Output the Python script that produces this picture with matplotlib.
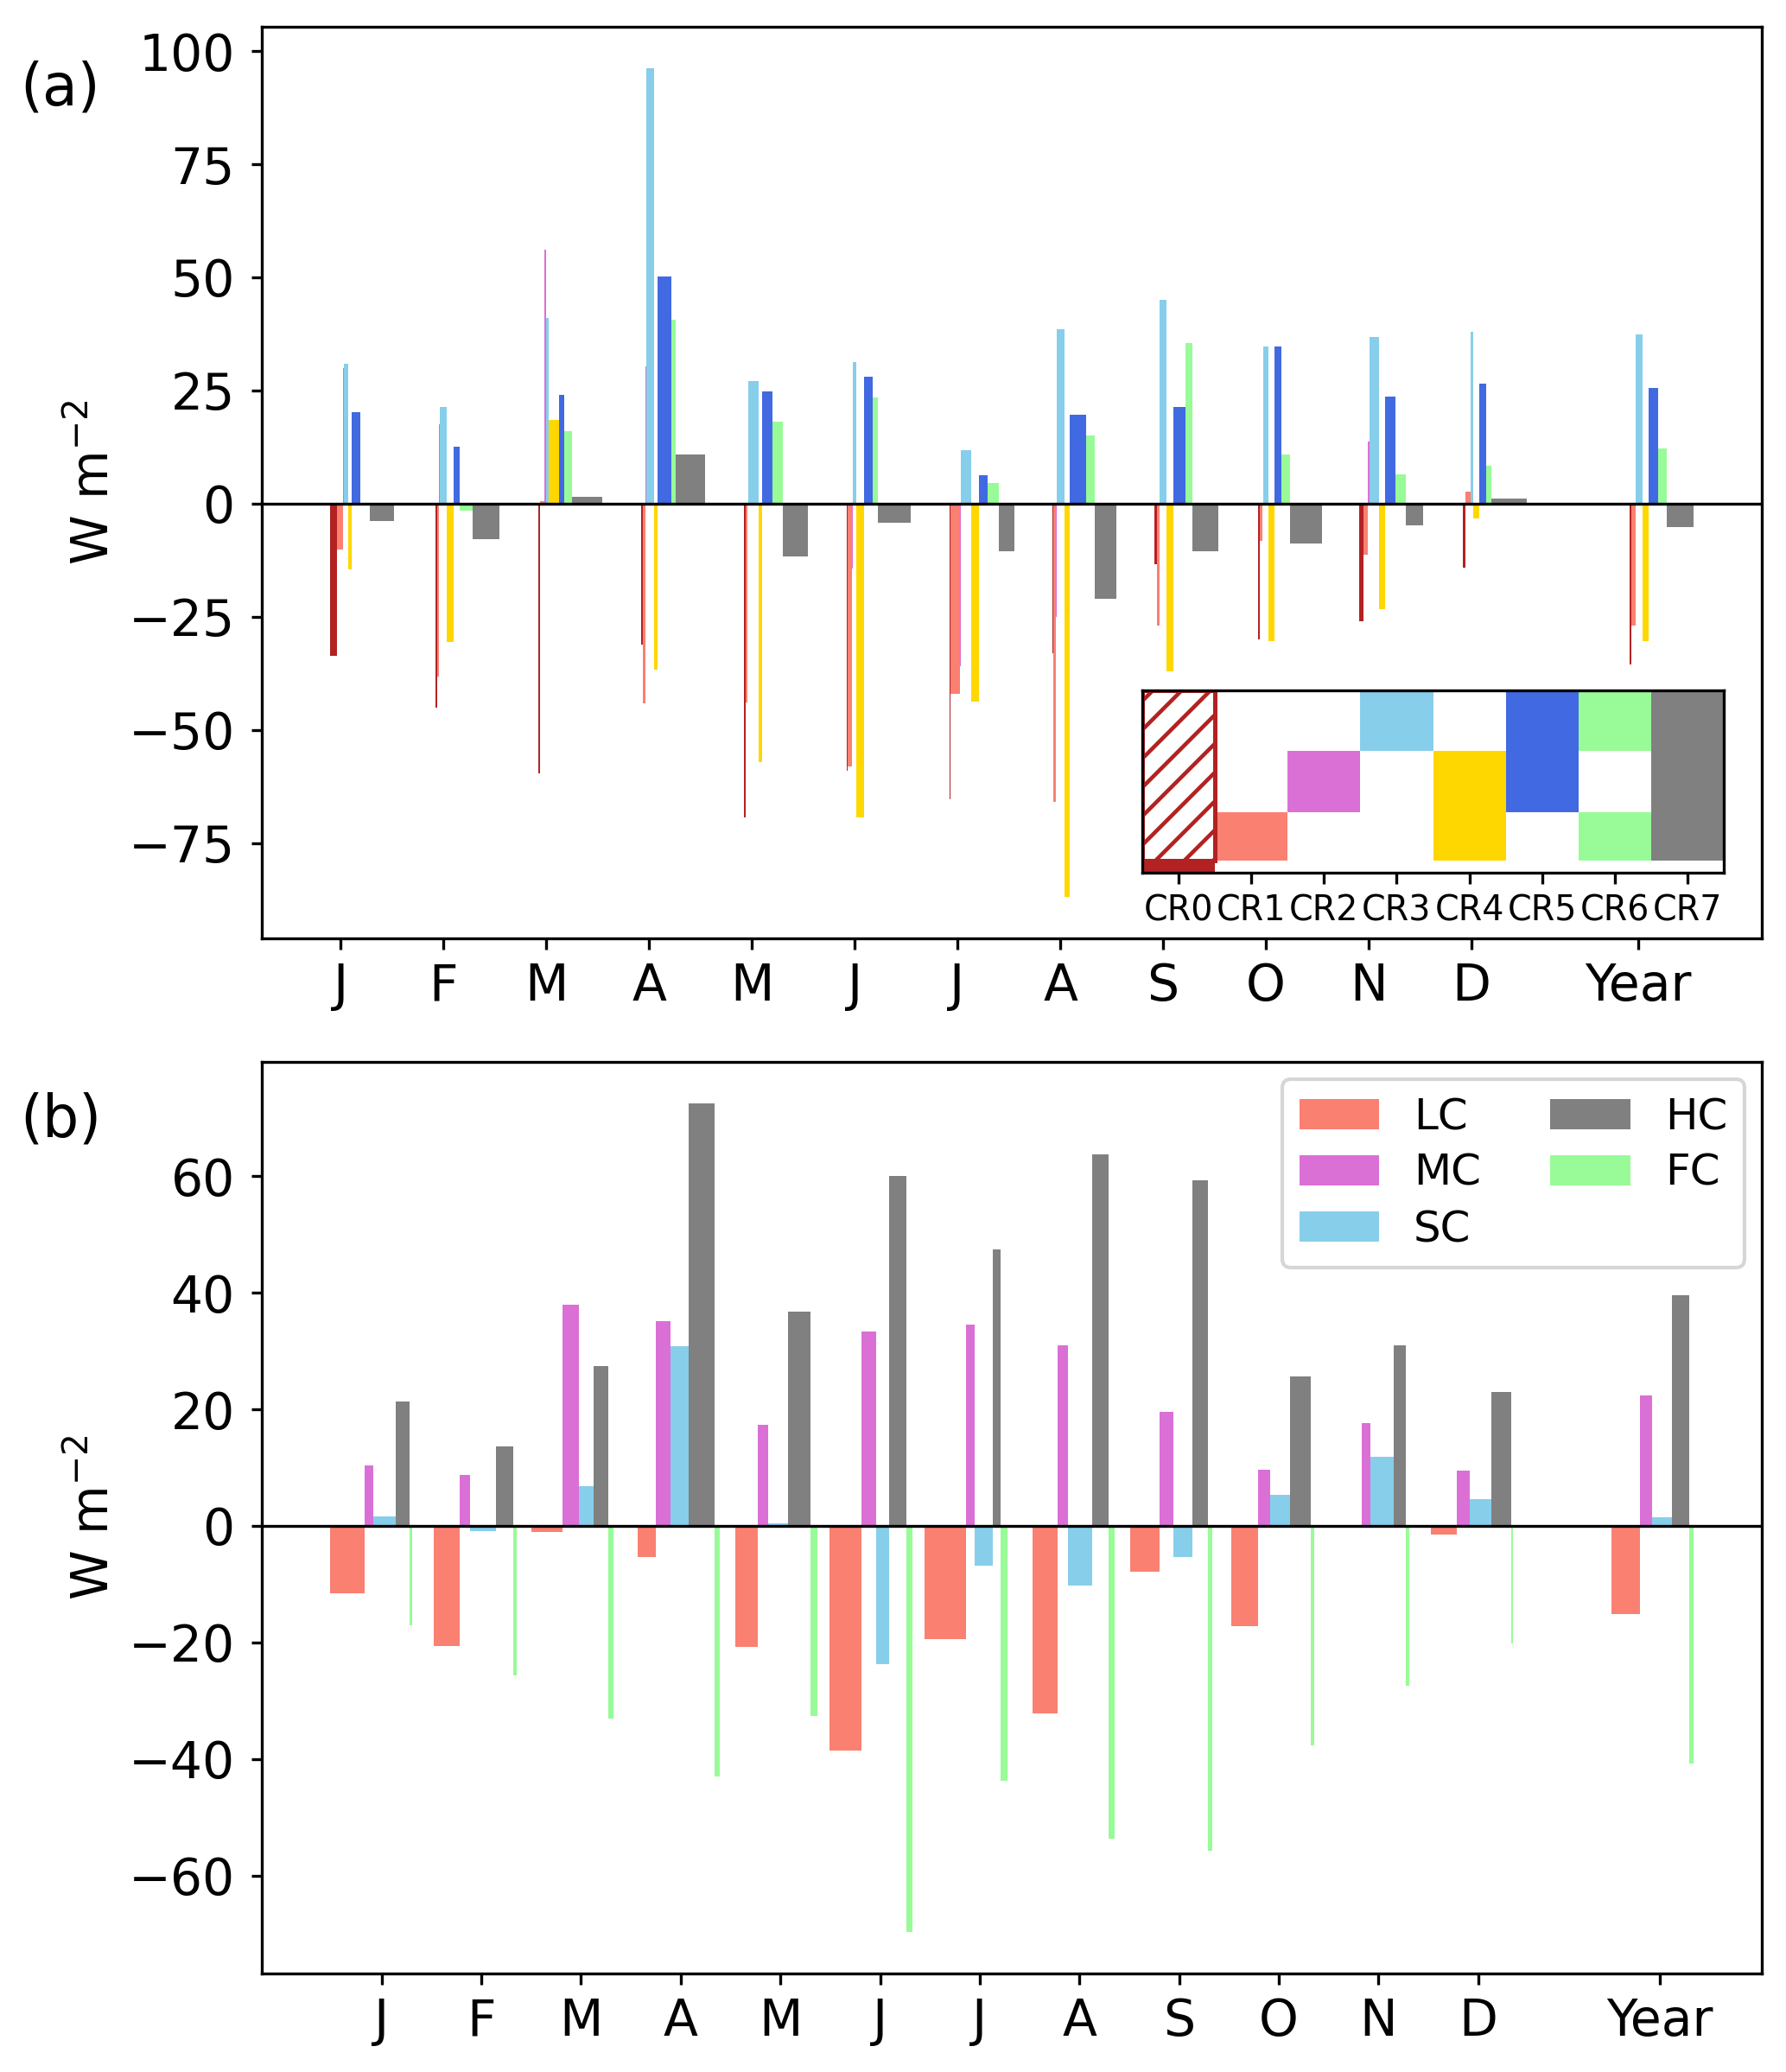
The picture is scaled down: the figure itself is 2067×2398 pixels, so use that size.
import numpy as np
import matplotlib
matplotlib.use('Agg')
import matplotlib.pyplot as plt

# ---------------- data ----------------
months = ['J', 'F', 'M', 'A', 'M', 'J', 'J', 'A', 'S', 'O', 'N', 'D', 'Year']
regimes = ['CR0', 'CR1', 'CR2', 'CR3', 'CR4', 'CR5', 'CR6', 'CR7']
cr_colors = ['firebrick', 'salmon', 'orchid', 'skyblue', 'gold', 'royalblue', 'palegreen', 'gray']

# panel (a): anomaly per regime (W m-2), rows = months (+Year), cols = CR0..CR7
vals_a = [
    [-33.6, -10.2, 30.0, 30.9, -14.5, 20.2, -0.4, -3.9],
    [-45.0, -38.3, 17.5, 21.4, -30.5, 12.6, -1.5, -7.8],
    [-59.6, 0.5, 56.1, 41.0, 18.5, 24.1, 16.1, 1.5],
    [-31.1, -44.1, 30.4, 96.2, -36.7, 50.1, 40.7, 10.9],
    [-69.4, -43.9, 0.0, 27.1, -57.1, 24.8, 18.1, -11.7],
    [-59.1, -58.1, -14.3, 31.2, -69.3, 28.0, 23.4, -4.2],
    [-65.4, -42.1, -36.0, 11.8, -43.7, 6.2, 4.6, -10.6],
    [-33.1, -65.8, -25.0, 38.6, -86.9, 19.7, 15.1, -21.0],
    [-13.3, -26.9, 0.0, 45.0, -37.1, 21.3, 35.4, -10.6],
    [-30.0, -8.3, 0.0, 34.8, -30.3, 34.8, 10.9, -8.8],
    [-26.0, -11.3, 13.8, 36.8, -23.3, 23.6, 6.4, -4.8],
    [-14.2, 2.7, 7.1, 38.0, -3.2, 26.5, 8.4, 1.2],
    [-35.6, -26.9, 0.0, 37.4, -30.4, 25.6, 12.1, -5.1],
]
# panel (a): relative frequency of each regime (bar widths, relative units)
rfo_a = [
    [8.2, 6.4, 1.1, 5.7, 3.9, 9.6, 10.7, 27.9],
    [1.8, 2.5, 1.1, 7.5, 7.9, 7.5, 14.3, 31.8],
    [2.9, 5.0, 1.4, 3.2, 12.5, 5.4, 8.9, 35.0],
    [1.8, 2.9, 1.1, 8.9, 4.6, 15.4, 5.0, 34.6],
    [2.1, 2.5, 0.3, 11.8, 4.6, 12.2, 11.4, 28.9],
    [1.1, 5.0, 1.1, 3.6, 8.6, 10.0, 6.4, 38.6],
    [0.7, 11.1, 1.4, 11.4, 8.9, 10.7, 12.9, 17.9],
    [1.1, 2.9, 1.1, 9.3, 5.4, 19.3, 10.4, 25.0],
    [2.9, 2.5, 0.3, 8.6, 7.5, 14.3, 7.5, 30.7],
    [2.1, 3.6, 0.3, 6.4, 6.8, 8.2, 10.4, 36.8],
    [5.7, 5.0, 1.1, 11.8, 6.8, 12.1, 12.1, 19.6],
    [3.6, 5.4, 0.7, 2.1, 7.9, 7.9, 6.1, 40.4],
    [2.5, 4.6, 0.3, 7.5, 7.1, 10.7, 9.6, 31.4],
]

# panel (b): cloud types
ctypes = ['LC', 'MC', 'SC', 'HC', 'FC']
ct_colors = ['salmon', 'orchid', 'skyblue', 'gray', 'palegreen']
vals_b = [
    [-11.5, 10.4, 1.6, 21.3, -17.0],
    [-20.6, 8.8, -0.9, 13.6, -25.6],
    [-1.1, 38.0, 6.8, 27.4, -33.1],
    [-5.3, 35.1, 30.8, 72.5, -43.0],
    [-20.8, 17.4, 0.5, 36.7, -32.6],
    [-38.5, 33.3, -23.8, 60.0, -69.7],
    [-19.5, 34.6, -6.9, 47.5, -43.7],
    [-32.2, 31.0, -10.3, 63.8, -53.7],
    [-7.8, 19.5, -5.3, 59.3, -55.7],
    [-17.2, 9.7, 5.3, 25.6, -37.6],
    [0.0, 17.7, 11.8, 31.0, -27.4],
    [-1.5, 9.5, 4.6, 22.9, -20.2],
    [-15.2, 22.4, 1.5, 39.6, -40.8],
]
frac_b = [
    [40.4, 10.0, 25.7, 16.1, 3.2],
    [30.0, 11.1, 30.4, 20.0, 3.9],
    [36.8, 19.3, 17.1, 16.8, 6.1],
    [21.1, 17.1, 20.7, 29.6, 6.4],
    [26.1, 12.1, 23.9, 25.4, 8.2],
    [37.1, 16.4, 15.0, 20.7, 6.4],
    [47.9, 9.6, 20.7, 9.3, 7.9],
    [29.6, 11.8, 27.5, 19.6, 7.1],
    [34.6, 16.1, 22.5, 17.5, 5.7],
    [30.7, 13.9, 23.9, 23.9, 3.2],
    [40.0, 10.4, 27.5, 14.3, 4.3],
    [30.7, 14.6, 24.6, 23.2, 2.5],
    [32.9, 14.3, 22.9, 20.7, 4.6],
]

# inset: which cloud layers each regime contains (low, mid, high)
inset_low = [1, 1, 0, 0, 1, 0, 1, 1]
inset_mid = [1, 0, 1, 0, 1, 1, 0, 1]
inset_high = [1, 0, 0, 1, 0, 1, 1, 1]

# ---------------- layout ----------------
W, H, DPI = 2067, 2398, 300
fig = plt.figure(figsize=(W / DPI, H / DPI), dpi=DPI)
plt.rcParams['hatch.linewidth'] = 1.1

left, width = 303 / W, 1736 / W
ax_a = fig.add_axes([left, 1 - 1086 / H, width, 1055 / H])
ax_b = fig.add_axes([left, 1 - 2284 / H, width, 1055 / H])


def grouped(ax, centers, vals, wids, colors, total, labels=None):
    v = np.asarray(vals, float)
    w = np.asarray(wids, float)
    w = w / w.sum(axis=1, keepdims=True) * total
    x = centers - w[:, 0] / 2
    for k in range(v.shape[1]):
        ax.bar(x, v[:, k], width=w[:, k], align='edge', color=colors[k],
               linewidth=0, label=None if labels is None else labels[k])
        x = x + w[:, k]


pos_a = np.append(np.arange(12), 12.62)
pos_b = np.append(np.arange(12), 12.82)

grouped(ax_a, pos_a, vals_a, rfo_a, cr_colors, 0.623)
grouped(ax_b, pos_b, vals_b, frac_b, ct_colors, 0.827, labels=ctypes)

for ax, pos, off in ((ax_a, pos_a, 0.07), (ax_b, pos_b, 0.343)):
    ax.axhline(0, color='black', linewidth=0.8)
    ax.set_xticks(pos + off)
    ax.set_xticklabels(months)
    ax.tick_params(axis='both', labelsize=14, length=3, width=0.8)
    ax.tick_params(axis='y', pad=4.5)
    ax.set_ylabel('W m$^{-2}$', fontsize=14)
    ax.yaxis.set_label_coords(-0.095, 0.5)

ax_a.set_yticks([-75, -50, -25, 0, 25, 50, 75, 100])
ax_b.set_yticks([-60, -40, -20, 0, 20, 40, 60])

ax_b.legend(ncol=2, fontsize=12, loc='upper right', labelspacing=0.34,
            handlelength=1.85, columnspacing=1.6, handletextpad=0.8,
            borderaxespad=0.4)

fig.text(23 / W, 1 - 103 / H, '(a)', fontsize=16, ha='left', va='center')
fig.text(23 / W, 1 - 1297 / H, '(b)', fontsize=16, ha='left', va='center')

# ---------------- inset ----------------
ax_in = fig.add_axes([1322 / W, 1 - 1010 / H, 673 / W, 211 / H])
xc = np.arange(len(regimes))
low_b, low_h = 0.0, 0.8
mid_b, mid_h = 0.8, 1.0
high_b, high_h = 1.8, 1.0
for k in range(1, len(regimes)):
    if inset_low[k]:
        ax_in.bar(xc[k], low_h, bottom=low_b, width=1, color=cr_colors[k], linewidth=0)
    if inset_mid[k]:
        ax_in.bar(xc[k], mid_h, bottom=mid_b, width=1, color=cr_colors[k], linewidth=0)
    if inset_high[k]:
        ax_in.bar(xc[k], high_h, bottom=high_b, width=1, color=cr_colors[k], linewidth=0)
ax_in.bar(xc[0], low_h + mid_h + high_h, bottom=low_b, width=1, facecolor='white',
          edgecolor=cr_colors[0], hatch='///', linewidth=1.2)
ax_in.bar(xc[0], 0.2, bottom=-0.2, width=1, color=cr_colors[0], linewidth=0)
ax_in.set_xlim(-0.5, 7.5)
ax_in.set_ylim(-0.2, 2.8)
ax_in.set_yticks([])
ax_in.set_xticks(xc)
ax_in.set_xticklabels(regimes, fontsize=9.5)
ax_in.tick_params(axis='x', length=3, width=0.8, pad=3)

fig.savefig('out.png', dpi=DPI)
